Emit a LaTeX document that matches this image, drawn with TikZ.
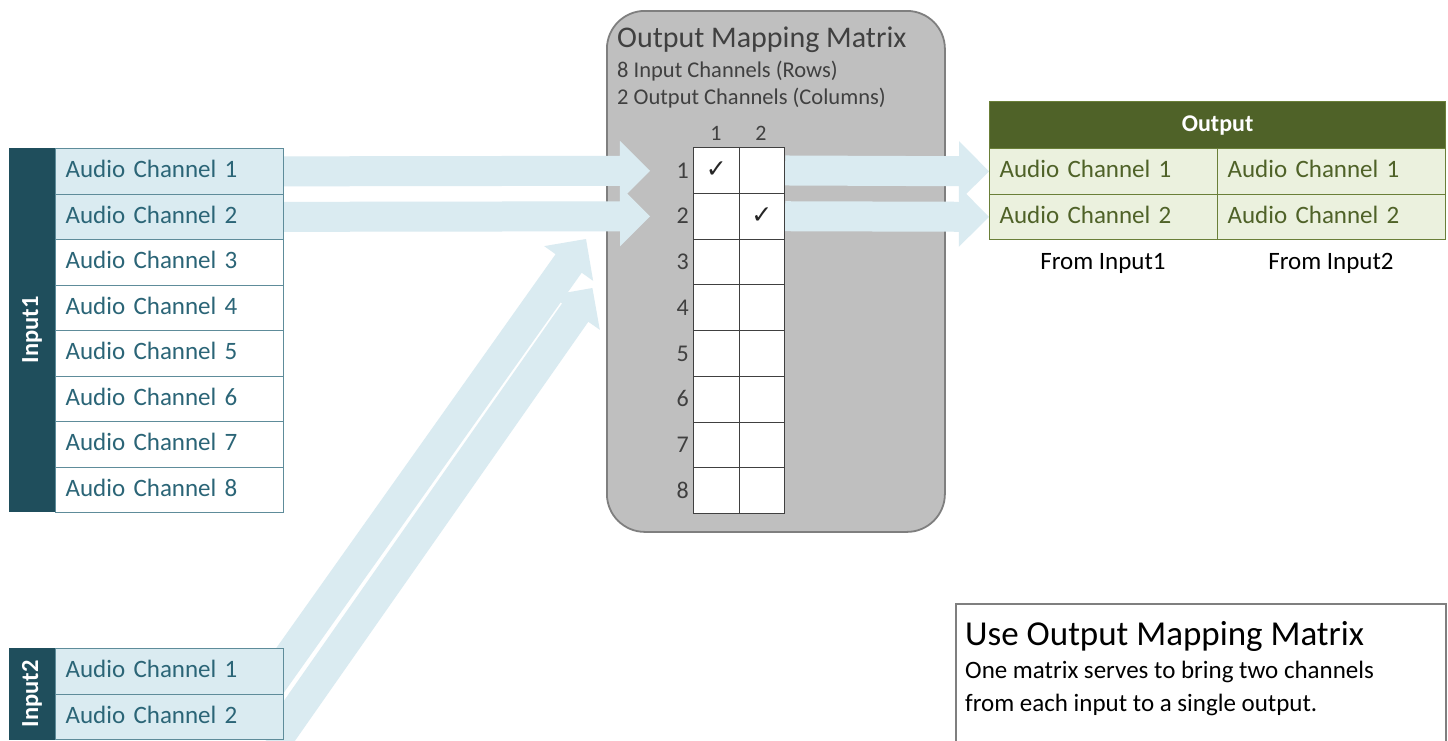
\documentclass[tikz,border=0pt]{standalone}
\usepackage{fontspec}
\setmainfont{Carlito}
\newfontfamily\symfont{DejaVu Sans}
\usetikzlibrary{calc}

\definecolor{arrowc}{HTML}{DAEBF1}
\definecolor{lightrow}{HTML}{DAEBF1}
\definecolor{darkteal}{HTML}{1F4E5C}
\definecolor{rowline}{HTML}{5E8C9A}
\definecolor{rowtext}{HTML}{2B6577}
\definecolor{boxgray}{HTML}{BFBFBF}
\definecolor{boxline}{HTML}{7F7F7F}
\definecolor{olivedark}{HTML}{4F6228}
\definecolor{lightolive}{HTML}{EBF1DE}
\definecolor{oliveline}{HTML}{6A7F38}
\definecolor{textgray}{HTML}{404040}

\pgfdeclarelayer{boxlayer}
\pgfdeclarelayer{arrowlayer}
\pgfsetlayers{boxlayer,arrowlayer,main}

% block arrow: [half shaft width]{start}{tip}
\newcommand\blockarrow[3][15pt]{%
  \coordinate (ba) at ($(#3)!30pt!(#2)$);
  \fill[arrowband] ($(#2)!#1!90:(#3)$) -- ($(ba)!#1!-90:(#2)$) -- ($(ba)!30pt!-90:(#2)$) -- (#3)
     -- ($(ba)!30pt!90:(#2)$) -- ($(ba)!#1!90:(#2)$) -- ($(#2)!#1!-90:(#3)$) -- cycle;}

\begin{document}
\begin{tikzpicture}[x=1pt,y=-1pt,
  arrowband/.style={fill=arrowc},
  inrow/.style={draw=rowline, line width=1.2pt, fill=white, anchor=north west,
    minimum height=45.5pt, text width=208pt, inner xsep=10pt, inner ysep=0pt,
    align=left, text height=13pt, text depth=0pt,
    font=\fontsize{25}{30}\selectfont, text=rowtext},
  inbar/.style={fill=darkteal, rotate=90, minimum height=46pt, inner sep=0pt,
    text=white, font=\bfseries\fontsize{24.5}{28}\selectfont},
  cellst/.style={draw=textgray, line width=1.2pt, fill=white, anchor=north west,
    minimum width=45.5pt, minimum height=45.75pt, inner sep=0pt},
  orow/.style={draw=oliveline, line width=1.2pt, fill=lightolive, anchor=north west,
    minimum height=45.5pt, text width=208pt, inner xsep=10pt, inner ysep=0pt,
    align=left, text height=13pt, text depth=0pt,
    font=\fontsize{25}{30}\selectfont, text=olivedark},
  gtext/.style={anchor=base west, inner sep=0pt, text=textgray},
  lbl/.style={inner sep=0pt, text=textgray, font=\fontsize{24}{28}\selectfont},
  chk/.style={inner sep=0pt, text=black!85, font=\symfont\fontsize{25}{26}\selectfont},
  ntext/.style={anchor=base west, inner sep=0pt, text=black}
]
\useasboundingbox (0,0) rectangle (1448,740);

% matrix container
\begin{pgfonlayer}{boxlayer}
\fill[white] (0,0) rectangle (1448,740);
\node[draw=boxline, line width=1.8pt, fill=boxgray, rounded corners=38pt,
  minimum width=338pt, minimum height=521pt, anchor=north west] (mm) at (606,10) {};
\end{pgfonlayer}
\node[gtext, font=\fontsize{30}{36}\selectfont] (mt) at (617,47) {Output Mapping Matrix};
\node[gtext, font=\fontsize{22.5}{26}\selectfont] (ms1) at (617,77) {8 Input Channels (Rows)};
\node[gtext, font=\fontsize{22.5}{26}\selectfont] (ms2) at (617,104) {2 Output Channels (Columns)};

% Input1
\node[inbar, minimum width=364pt] (in1) at (32,330) {Input1};
\node[inrow, fill=lightrow] (a1) at (55,148) {Audio Channel 1};
\node[inrow, fill=lightrow] (a2) at (55,193.5) {Audio Channel 2};
\foreach \k in {3,...,8}{
  \node[inrow] (a\k) at (55,{148+45.5*(\k-1)}) {Audio Channel \k};
}

% Input2
\node[inbar, minimum width=92pt] (in2) at (32,694) {Input2};
\node[inrow, fill=lightrow] (b1) at (55,648) {Audio Channel 1};
\node[inrow, fill=lightrow] (b2) at (55,693.5) {Audio Channel 2};

% grid cells
\foreach \r in {1,...,8}{
  \foreach \c in {1,2}{
    \node[cellst] (c\r\c) at ({693+45.5*(\c-1)},{147+45.75*(\r-1)}) {};
  }
  \node[lbl, anchor=base east] (rl\r) at (689,{147+45.75*(\r-1)+31}) {\r};
}
\node[lbl, anchor=base, font=\fontsize{22}{26}\selectfont] (ch1) at (716,140) {1};
\node[lbl, anchor=base, font=\fontsize{22}{26}\selectfont] (ch2) at (761,140) {2};
\node[chk] (k1) at ($(c11)+(0,-1)$) {✓};
\node[chk] (k2) at ($(c22)+(0,-1)$) {✓};

% output table
\node[fill=olivedark, draw=oliveline, line width=1.2pt, minimum width=456pt, minimum height=47pt,
  anchor=north west, text=white, font=\bfseries\fontsize{24}{28}\selectfont] (oh) at (989,101) {Output};
\node[orow] (o11) at (989,148) {Audio Channel 1};
\node[orow] (o12) at (1217,148) {Audio Channel 1};
\node[orow] (o21) at (989,193.5) {Audio Channel 2};
\node[orow] (o22) at (1217,193.5) {Audio Channel 2};
\node[anchor=base, inner sep=0pt, font=\fontsize{25}{30}\selectfont] (f1) at (1103,269) {From Input1};
\node[anchor=base, inner sep=0pt, font=\fontsize{25}{30}\selectfont] (f2) at (1331,269) {From Input2};

% note box
\node[draw=boxline, line width=1.5pt, fill=white, minimum width=490pt, minimum height=160pt,
  anchor=north west] (note) at (955,603) {};
\node[ntext, font=\fontsize{35}{40}\selectfont] (nt) at (965,645) {Use Output Mapping Matrix};
\node[ntext, font=\fontsize{25}{30}\selectfont] (nl1) at (965,678) {One matrix serves to bring two channels};
\node[ntext, font=\fontsize{25}{30}\selectfont] (nl2) at (965,711) {from each input to a single output.};

% named free ends of the arrows
\coordinate (t1) at (650,170.75);
\coordinate (t2) at (650,216.25);
\coordinate (dA0) at (260.3,698.2);
\coordinate (dAt) at (586,239);
\coordinate (dB0) at (272.5,745);
\coordinate (dBt) at (592.4,288);

% arrows
\begin{pgfonlayer}{arrowlayer}
\blockarrow[16pt]{dB0}{dBt}
\blockarrow[16pt]{dA0}{dAt}
\blockarrow{a1.east}{t1}
\blockarrow{a2.east}{t2}
\blockarrow{c12.east}{o11.west}
\blockarrow{c22.east}{o21.west}
\end{pgfonlayer}
\end{tikzpicture}
\end{document}
